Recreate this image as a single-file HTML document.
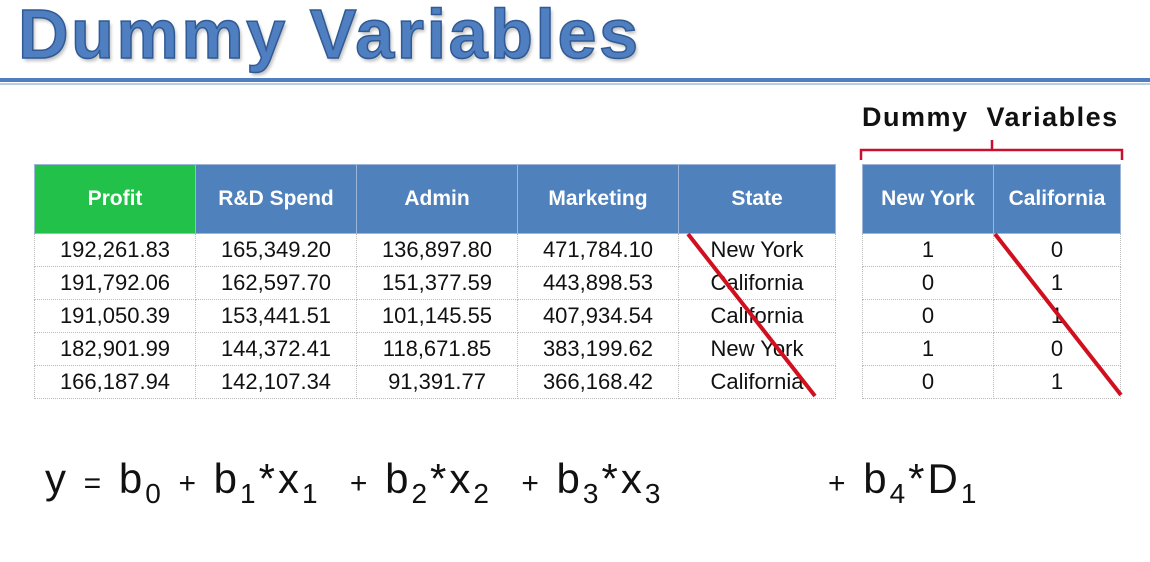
<!DOCTYPE html>
<html><head><meta charset="utf-8"><style>
body{margin:0;width:1150px;height:562px;background:#fff;position:relative;overflow:hidden;font-family:"Liberation Sans",sans-serif}
.t{position:absolute;left:18px;top:-6px;font-size:70px;font-weight:bold;color:#4f7fc0;-webkit-text-stroke:1.5px #2f5a94;letter-spacing:2.6px;text-shadow:2px 3px 3px rgba(0,0,0,.25)}
table{position:absolute;border-collapse:collapse;font-size:22px}
td,th{border:1px dotted #bbb;text-align:center;padding:0;color:#111}
th{background:#4f81bd;color:#fff;font-weight:bold;height:68px;border:1px solid #9db5d8;font-size:21px}
td{height:32px}
.eq{position:absolute;top:455px;font-size:42px;color:#111;white-space:nowrap;letter-spacing:3px}
.eq sub{font-size:28px;vertical-align:-10px}
.p{font-size:30px}
</style></head><body>
<div class="t">Dummy Variables</div>
<div style="position:absolute;left:0;top:78px;width:1150px;height:4px;background:#4f7fc0"></div>
<div style="position:absolute;left:0;top:83px;width:1150px;height:2px;background:#b9cde6"></div>

<table style="left:34px;top:164px;width:802px">
<tr><th style="background:#22c24a;width:160px">Profit</th><th style="width:160px">R&amp;D Spend</th><th style="width:160px">Admin</th><th style="width:160px">Marketing</th><th>State</th></tr>
<tr><td>192,261.83</td><td>165,349.20</td><td>136,897.80</td><td>471,784.10</td><td>New York</td></tr>
<tr><td>191,792.06</td><td>162,597.70</td><td>151,377.59</td><td>443,898.53</td><td>California</td></tr>
<tr><td>191,050.39</td><td>153,441.51</td><td>101,145.55</td><td>407,934.54</td><td>California</td></tr>
<tr><td>182,901.99</td><td>144,372.41</td><td>118,671.85</td><td>383,199.62</td><td>New York</td></tr>
<tr><td>166,187.94</td><td>142,107.34</td><td>91,391.77</td><td>366,168.42</td><td>California</td></tr>
</table>

<table style="left:862px;top:164px;width:259px">
<tr><th style="width:130px">New York</th><th>California</th></tr>
<tr><td>1</td><td>0</td></tr><tr><td>0</td><td>1</td></tr><tr><td>0</td><td>1</td></tr><tr><td>1</td><td>0</td></tr><tr><td>0</td><td>1</td></tr>
</table>

<div style="position:absolute;left:862px;top:102px;font-size:27px;font-weight:bold;color:#111;letter-spacing:1.5px">Dummy&nbsp; Variables</div>
<svg width="1150" height="562" style="position:absolute;left:0;top:0">
<path d="M861 160 L861 150 L992 150 L992 140 M992 150 L1122 150 L1122 160" fill="none" stroke="#c8102e" stroke-width="2.5"/>
<line x1="688" y1="234" x2="815" y2="396" stroke="#d0101e" stroke-width="4"/>
<line x1="995" y1="234" x2="1121" y2="395" stroke="#d0101e" stroke-width="4"/>
</svg>

<div class="eq" style="left:45px">y&nbsp;<span class="p">=</span>&nbsp;b<sub>0</sub>&nbsp;<span class="p">+</span>&nbsp;b<sub>1</sub>*x<sub>1</sub>&nbsp;&nbsp;<span class="p">+</span>&nbsp;b<sub>2</sub>*x<sub>2</sub>&nbsp;&nbsp;<span class="p">+</span>&nbsp;b<sub>3</sub>*x<sub>3</sub></div>
<div class="eq" style="left:828px"><span class="p">+</span>&nbsp;b<sub>4</sub>*D<sub>1</sub></div>
</body></html>
